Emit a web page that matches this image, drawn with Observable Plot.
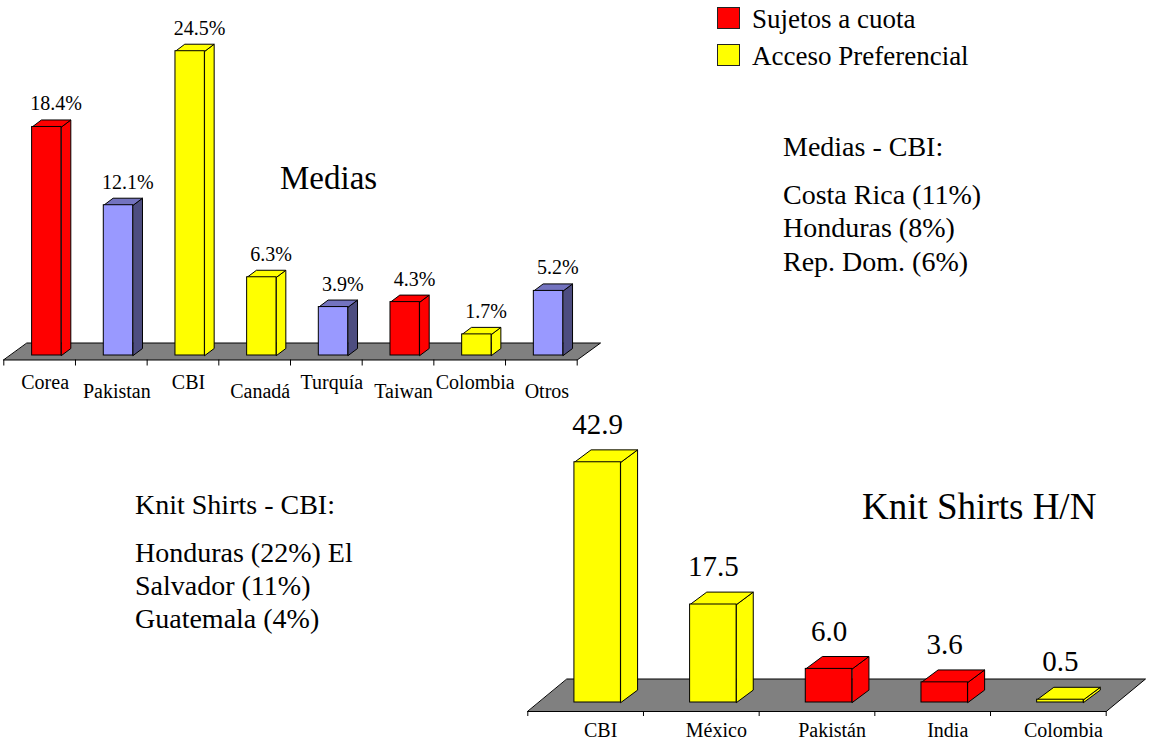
<!DOCTYPE html>
<html>
<head>
<meta charset="utf-8">
<script src="https://cdn.jsdelivr.net/npm/d3@7"></script>
<script src="https://cdn.jsdelivr.net/npm/@observablehq/plot@0.6"></script>
<style>
  html, body { margin: 0; padding: 0; background: #fff; }
  body { width: 1149px; height: 743px; position: relative; overflow: hidden;
         font-family: "Liberation Serif", "Times New Roman", serif; color: #000; }
  .chart { position: absolute; left: 0; top: 0; }
  .abs { position: absolute; line-height: 1; white-space: pre; }
  .sw { position: absolute; width: 21px; height: 20px; border: 1px solid #222; }
</style>
</head>
<body>
<div id="c1" class="chart"></div>
<div id="c2" class="chart"></div>
<div id="txt"></div>
<script>
// ---------- data ----------
const mediasCategories = ["Corea", "Pakistan", "CBI", "Canadá", "Turquía", "Taiwan", "Colombia", "Otros"];
const mediasValues = [18.4, 12.1, 24.5, 6.3, 3.9, 4.3, 1.7, 5.2];
const mediasGroups = ["cuota", "otro", "pref", "pref", "otro", "cuota", "pref", "otro"];

const knitCategories = ["CBI", "México", "Pakistán", "India", "Colombia"];
const knitValues = [42.9, 17.5, 6.0, 3.6, 0.5];
const knitGroups = ["pref", "pref", "cuota", "cuota", "pref"];

const legendLabels = ["Sujetos a cuota", "Acceso Preferencial"];
const legendGroups = ["cuota", "pref"];

const mediasNoteTitle = "Medias - CBI:";
const mediasNotes = ["Costa Rica (11%)", "Honduras (8%)", "Rep. Dom. (6%)"];
const knitNoteTitle = "Knit Shirts - CBI:";
const knitNotes = ["Honduras (22%) El", "Salvador (11%)", "Guatemala (4%)"];

// ---------- styles ----------
const palette = {
  cuota: {front: "#FF0000", top: "#FF0000", side: "#FF0000"},
  pref:  {front: "#FFFF00", top: "#FFFF00", side: "#FFFF00"},
  otro:  {front: "#9999FF", top: "#7373BF", side: "#4D4D80"}
};
const FONT = "Liberation Serif, Times New Roman, serif";

function bar3d(cfg) {
  const n = cfg.categories.length;
  const ppu = cfg.pxPerUnit;
  const [f0, f1] = cfg.face;
  const ddx = cfg.depthDx;            // in band units
  const ddy = cfg.depthDyPx / ppu;     // in value units
  const yf = -cfg.floorFrontPx / ppu;
  const yb = cfg.floorBackPx / ppu;
  const maxV = d3.max(cfg.values);

  const bars = cfg.values.map((v, i) => ({i, v, g: cfg.groups[i]}));
  const polys = [];
  bars.forEach(b => {
    const c = palette[b.g];
    const a = b.i + f0, r = b.i + f1;
    [[r, 0], [r + ddx, ddy], [r + ddx, b.v + ddy], [r, b.v]]
      .forEach(([x, y]) => polys.push({key: "s" + b.i, x, y, fill: c.side}));
    [[a, b.v], [a + ddx, b.v + ddy], [r + ddx, b.v + ddy], [r, b.v]]
      .forEach(([x, y]) => polys.push({key: "t" + b.i, x, y, fill: c.top}));
  });
  const floor = [[-0.5, yf], [n - 0.5, yf], [n - 0.5 + cfg.floorDx, yb], [-0.5 + cfg.floorDx, yb]]
    .map(([x, y]) => ({x, y}));
  const ticks = d3.range(n + 1).map(i => i - 0.5);

  return Plot.plot({
    width: 1149, height: 743, margin: 0,
    style: {background: "transparent", fontFamily: FONT},
    x: {type: "linear", domain: [-0.5, n - 0.5], range: cfg.xRange, axis: null},
    y: {type: "linear", domain: [0, maxV], range: [cfg.y0, cfg.y0 - maxV * ppu], axis: null},
    color: {type: "identity"},
    marks: [
      Plot.line(floor, {x: "x", y: "y", curve: "linear-closed", fill: "#808080", stroke: "#000", strokeWidth: 1}),
      Plot.ruleX(ticks, {x: d => d, y1: yf, y2: yf - cfg.tickPx / ppu, stroke: "#000", strokeWidth: 1}),
      Plot.line(polys, {x: "x", y: "y", z: "key", fill: "fill", stroke: "#000", strokeWidth: 1,
                        curve: "linear-closed", strokeLinejoin: "miter"}),
      Plot.rect(bars, {x1: d => d.i + f0, x2: d => d.i + f1, y1: 0, y2: d => d.v,
                       fill: d => palette[d.g].front, stroke: "#000", strokeWidth: 1}),
      Plot.text(bars, {x: d => d.i + cfg.valueDx, y: d => d.v + ddy, dy: -cfg.valueGapPx,
                       text: d => cfg.fmt(d.v), lineAnchor: "bottom", fontSize: cfg.valueFont,
                       fontFamily: FONT, fill: "#000"}),
      Plot.text(cfg.categories, {filter: (d, i) => i % 2 === 0, x: (d, i) => i + cfg.labelDx, y: yf,
                       dy: cfg.labelRowsPx[0], text: d => d, lineAnchor: "bottom",
                       fontSize: cfg.labelFont, fontFamily: FONT, fill: "#000"}),
      Plot.text(cfg.categories, {filter: (d, i) => i % 2 === 1, x: (d, i) => i + cfg.labelDx, y: yf,
                       dy: cfg.labelRowsPx[1], text: d => d, lineAnchor: "bottom",
                       fontSize: cfg.labelFont, fontFamily: FONT, fill: "#000"})
    ]
  });
}

document.getElementById("c1").append(bar3d({
  categories: mediasCategories, values: mediasValues, groups: mediasGroups,
  xRange: [3.3, 576.7], y0: 355, pxPerUnit: 12.42,
  face: [-0.105, 0.305], depthDx: 0.13, depthDyPx: 7,
  floorFrontPx: 4.5, floorBackPx: 12.5, floorDx: 0.326, tickPx: 6,
  valueDx: 0.23, valueGapPx: 9.5, valueFont: 20, fmt: v => v.toFixed(1) + "%",
  labelDx: 0.077, labelRowsPx: [28.5, 37.5], labelFont: 20
}));

document.getElementById("c2").append(bar3d({
  categories: knitCategories, values: knitValues, groups: knitGroups,
  xRange: [527.3, 1105.7], y0: 702, pxPerUnit: 5.6,
  face: [-0.097, 0.305], depthDx: 0.144, depthDyPx: 12.4,
  floorFrontPx: 9, floorBackPx: 23.5, floorDx: 0.34, tickPx: 5,
  valueDx: 0.104, valueGapPx: 16, valueFont: 29, fmt: v => v.toFixed(1),
  labelDx: 0.13, labelRowsPx: [25.7, 25.7], labelFont: 20
}));

// ---------- text annotations ----------
const txt = document.getElementById("txt");
function addText(s, left, baseline, size) {
  const el = document.createElement("div");
  el.className = "abs";
  el.textContent = s;
  el.style.left = left + "px";
  el.style.top = (baseline - 0.8375 * size) + "px";
  el.style.fontSize = size + "px";
  txt.append(el);
}
legendLabels.forEach((s, i) => {
  const sw = document.createElement("div");
  sw.className = "sw";
  sw.style.left = "717px";
  sw.style.top = (7 + i * 37) + "px";
  sw.style.background = palette[legendGroups[i]].front;
  txt.append(sw);
  addText(s, 752, 29 + i * 37, 27);
});
addText("Medias", 280, 190, 33);
addText("Knit Shirts H/N", 862, 519, 37);
addText(mediasNoteTitle, 783, 156.5, 28);
mediasNotes.forEach((s, i) => addText(s, 783, 204.5 + i * 33.3, 28));
addText(knitNoteTitle, 135, 514.5, 28);
knitNotes.forEach((s, i) => addText(s, 135, 562.5 + i * 33, 28));
</script>
</body>
</html>
